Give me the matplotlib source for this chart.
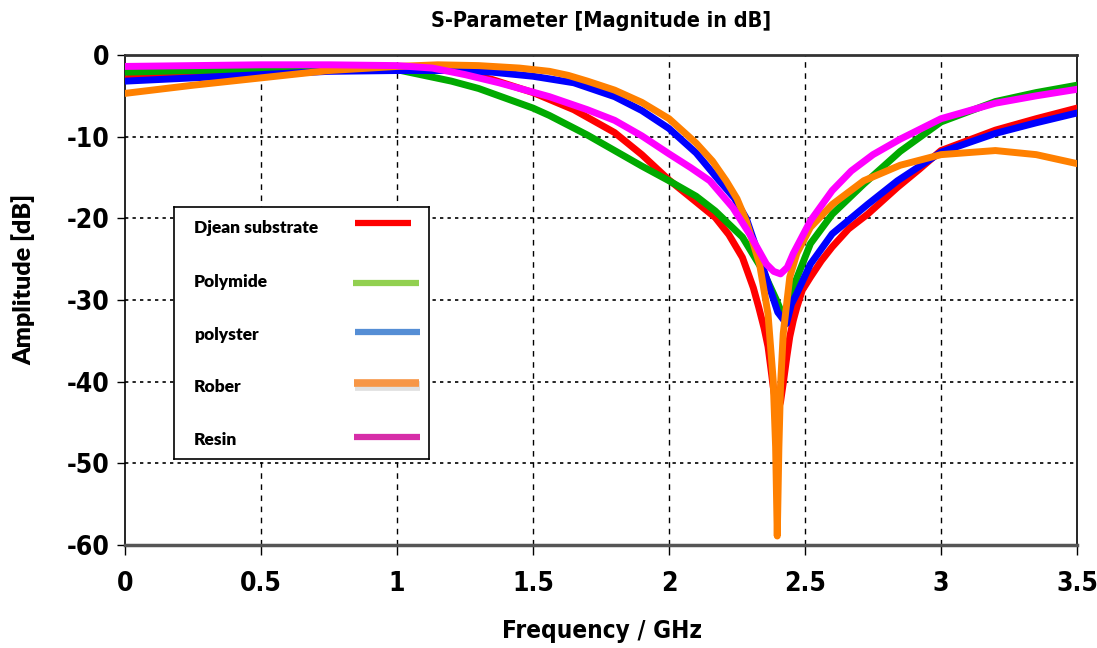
import matplotlib
matplotlib.use("Agg")
import matplotlib.pyplot as plt
from matplotlib import font_manager
from matplotlib.transforms import ScaledTranslation

# Djean substrate
f_djean = [0, 0.25, 0.5, 0.75, 1.0, 1.2, 1.35, 1.5, 1.65, 1.8, 1.9, 2.0, 2.1, 2.17, 2.22, 2.27,
           2.31, 2.33, 2.35, 2.364, 2.375, 2.383, 2.392, 2.40, 2.41, 2.42, 2.433, 2.444, 2.457,
           2.47, 2.49, 2.52, 2.56, 2.60, 2.66, 2.73, 2.84, 2.92, 3.0, 3.2, 3.35, 3.5]
db_djean = [-2.9, -2.4, -2.0, -1.6, -1.4, -1.8, -3.0, -4.6, -6.7, -9.5, -12.2, -15.3, -18.0, -19.9,
            -22.0, -24.8, -28.5, -30.9, -33.5, -35.7, -38.5, -40.6, -42.5, -43.5, -42.5, -40.2,
            -37.0, -34.5, -32.5, -30.9, -28.8, -27.2, -25.2, -23.5, -21.3, -19.5, -16.2, -14.0,
            -11.7, -9.2, -7.8, -6.5]

# Polymide
f_poly = [0, 0.25, 0.5, 0.75, 0.9, 1.0, 1.1, 1.2, 1.3, 1.4, 1.5, 1.56, 1.7, 1.8, 1.9, 2.0, 2.1,
          2.17, 2.27, 2.345, 2.395, 2.426, 2.44, 2.457, 2.52, 2.60, 2.716, 2.85, 3.0, 3.2, 3.35, 3.5]
db_poly = [-2.1, -1.9, -1.8, -1.7, -1.6, -1.8, -2.5, -3.2, -4.1, -5.3, -6.5, -7.4, -9.8, -11.7,
           -13.6, -15.4, -17.3, -19.1, -22.3, -26.4, -30.0, -32.5, -30.5, -28.4, -23.1, -19.5,
           -15.8, -11.8, -8.2, -5.7, -4.6, -3.7]

# polyster
f_polyster = [0, 0.25, 0.5, 0.75, 1.0, 1.2, 1.35, 1.5, 1.65, 1.8, 1.9, 2.0, 2.1, 2.185, 2.24,
              2.284, 2.333, 2.37, 2.40, 2.432, 2.45, 2.47, 2.52, 2.60, 2.73, 2.84, 3.0, 3.2, 3.35, 3.5]
db_polyster = [-3.2, -2.8, -2.4, -2.0, -1.9, -1.9, -2.1, -2.6, -3.4, -5.1, -6.8, -9.0, -12.0, -15.4,
               -17.5, -20.0, -24.8, -28.5, -31.5, -32.9, -30.5, -29.2, -25.6, -21.9, -18.3, -15.4,
               -11.9, -9.6, -8.3, -7.1]

# Rober
f_rober = [0, 0.25, 0.5, 0.75, 1.0, 1.15, 1.3, 1.45, 1.56, 1.63, 1.7, 1.8, 1.9, 2.0, 2.1, 2.16,
           2.21, 2.25, 2.284, 2.333, 2.364, 2.383, 2.392, 2.398, 2.404, 2.41, 2.42, 2.444, 2.47,
           2.52, 2.60, 2.716, 2.85, 3.0, 3.2, 3.35, 3.5]
db_rober = [-4.7, -3.7, -2.8, -1.9, -1.4, -1.2, -1.3, -1.6, -2.0, -2.5, -3.2, -4.3, -5.8, -7.8,
            -10.8, -13.0, -15.4, -17.6, -20.3, -25.6, -31.7, -39.8, -48.0, -58.9, -48.0, -40.5,
            -34.1, -27.2, -24.3, -21.1, -18.3, -15.4, -13.5, -12.2, -11.7, -12.2, -13.3]

# Resin
f_resin = [0, 0.25, 0.5, 0.75, 1.0, 1.13, 1.25, 1.375, 1.56, 1.7, 1.8, 1.9, 2.0, 2.08, 2.15,
           2.235, 2.296, 2.358, 2.385, 2.41, 2.435, 2.457, 2.52, 2.60, 2.67, 2.75, 2.85, 3.0,
           3.2, 3.35, 3.5]
db_resin = [-1.4, -1.3, -1.2, -1.2, -1.3, -1.6, -2.4, -3.4, -5.1, -6.7, -8.0, -9.9, -12.1, -13.8,
            -15.4, -18.7, -21.9, -25.6, -26.5, -26.8, -26.0, -24.3, -20.3, -16.6, -14.2, -12.2,
            -10.3, -7.8, -5.9, -5.0, -4.2]

labels = ["Djean substrate", "Polymide", "polyster", "Rober", "Resin"]
line_colors = ["#ff0000", "#00aa00", "#0000ff", "#ff8000", "#ff00ff"]
legend_colors = ["#ff0000", "#92d050", "#558ed5", "#f79646", "#d62ea8"]

x_ticks = [0, 0.5, 1, 1.5, 2, 2.5, 3, 3.5]
x_ticklabels = ["0", "0.5", "1", "1.5", "2", "2.5", "3", "3.5"]
y_ticks = [0, -10, -20, -30, -40, -50, -60]
y_ticklabels = ["0", "-10", "-20", "-30", "-40", "-50", "-60"]


# look for a condensed bold face, the original uses a narrow font
def pick_narrow():
    fonts = font_manager.fontManager.ttflist
    for want in ["Liberation Sans Narrow", "DejaVu Sans", "Roboto Condensed", "Roboto",
                 "Open Sans", "Noto Sans"]:
        for fe in fonts:
            if fe.name == want and fe.stretch in ("condensed", "semi-condensed", "extra-condensed") \
                    and fe.weight in ("bold", 700, "semibold", 600):
                return font_manager.FontProperties(fname=fe.fname)
        for fe in fonts:
            if fe.name == want and want.endswith(("Narrow", "Condensed")) \
                    and fe.weight in ("bold", 700):
                return font_manager.FontProperties(fname=fe.fname)
    return font_manager.FontProperties(family="DejaVu Sans", weight="bold")


narrow = pick_narrow()

fig = plt.figure(figsize=(10.97, 6.48), dpi=100)
ax = fig.add_axes([125 / 1097, 1 - 545 / 648, 952 / 1097, 490 / 648])

series = [(f_djean, db_djean), (f_poly, db_poly), (f_polyster, db_polyster),
          (f_rober, db_rober), (f_resin, db_resin)]
order = [0, 1, 4, 2, 3]
for i in order:
    f, db = series[i]
    ax.plot(f, db, color=line_colors[i], lw=5, solid_joinstyle="round", zorder=3 + i)

ax.set_xlim(0, 3.5)
ax.set_ylim(-60, 0)
ax.set_xticks(x_ticks)
ax.set_xticklabels(x_ticklabels)
ax.set_yticks(y_ticks)
ax.set_yticklabels(y_ticklabels)

for x in x_ticks[1:-1]:
    ax.axvline(x, color="black", lw=1, ls=(0, (4, 4)), zorder=1)
for y in y_ticks[1:-1]:
    ax.axhline(y, color="black", lw=1.2, ls=(0, (2, 2.5)), zorder=1)

for lab in ax.get_xticklabels() + ax.get_yticklabels():
    lab.set_fontproperties(narrow)
    lab.set_fontsize(19)
# keep the last x label inside the canvas
last = ax.get_xticklabels()[-1]
last.set_transform(last.get_transform() + ScaledTranslation(-7 / 100, 0, fig.dpi_scale_trans))
ax.tick_params(axis="x", direction="out", length=7, width=1, pad=12)
ax.tick_params(axis="y", direction="out", length=6, width=1, pad=5)

ax.spines["top"].set_linewidth(2)
ax.spines["left"].set_linewidth(1.2)
ax.spines["right"].set_linewidth(1.2)
ax.spines["bottom"].set_linewidth(2.5)
ax.spines["bottom"].set_color("#555555")
ax.spines["top"].set_color("#333333")

fig.text(0.548, 0.967, "S-Parameter [Magnitude in dB]", ha="center", va="center",
         fontproperties=narrow, fontsize=15.5)
fig.text(0.549, 0.027, "Frequency / GHz", ha="center", va="center",
         fontproperties=narrow, fontsize=17.5)
fig.text(0.021, 0.568, "Amplitude [dB]", ha="center", va="center", rotation=90,
         family=["Lato", "DejaVu Sans"], fontweight="heavy", fontsize=18)

# legend box drawn as its own little axes
lax = fig.add_axes([174 / 1097, 1 - 459 / 648, 255 / 1097, 252 / 648])
lax.set_xlim(0, 1)
lax.set_ylim(0, 1)
lax.set_xticks([])
lax.set_yticks([])
for sp in lax.spines.values():
    sp.set_linewidth(1.2)
text_y = [0.917, 0.702, 0.492, 0.286, 0.075]
line_y = [0.937, 0.698, 0.504, 0.302, 0.087]
line_x0 = [0.71, 0.70, 0.71, 0.705, 0.705]
line_x1 = [0.93, 0.96, 0.965, 0.96, 0.965]
for i in range(5):
    lax.text(0.078, text_y[i], labels[i], ha="left", va="center",
             family=["Lato", "DejaVu Sans"], fontweight="heavy", fontsize=12.5)
    if i == 3:
        lax.plot([line_x0[i] + 0.005, line_x1[i] + 0.005], [line_y[i] - 0.012, line_y[i] - 0.012],
                 color="#bbbbbb", lw=7, alpha=0.45, solid_capstyle="butt")
    lax.plot([line_x0[i], line_x1[i]], [line_y[i], line_y[i]], color=legend_colors[i],
             lw=5.5 if i == 3 else 4.5, solid_capstyle="butt")

fig.savefig("out.png", dpi=100)
